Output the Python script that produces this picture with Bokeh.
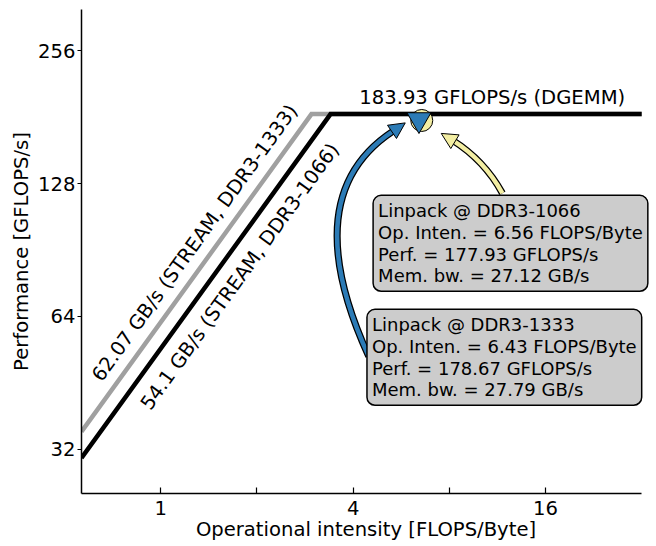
from bokeh.plotting import figure
from bokeh.models import (Range1d, FixedTicker, CustomJSTickFormatter, Label,
                          Arrow, NormalHead)
from bokeh.core.properties import value
from bokeh.embed import file_html
from bokeh.resources import INLINE
import math

# ---------------- data ----------------
peak_gflops = 183.93                      # DGEMM peak
bw_1333 = 62.07                           # STREAM, DDR3-1333 (GB/s)
bw_1066 = 54.1                            # STREAM, DDR3-1066 (GB/s)
oi_min, oi_max = 0.565, 32.0              # operational-intensity span of rooflines / x axis
x_view_max = 34.1                         # view extends a bit right so the boxes are not clipped
y_min, y_max = 25.4, 317.5

linpack_1066_oi = [6.56]
linpack_1066_perf = [177.93]
linpack_1333_oi = [6.43]
linpack_1333_perf = [178.67]

x_ticks = [1, 2, 4, 8, 16]
y_ticks = [32, 64, 128, 256]

roof_label_1333 = "62.07 GB/s (STREAM, DDR3-1333)"
roof_label_1066 = "54.1 GB/s (STREAM, DDR3-1066)"
peak_label = "183.93 GFLOPS/s (DGEMM)"
x_label = "Operational intensity [FLOPS/Byte]"
y_label = "Performance [GFLOPS/s]"
box_1066 = "Linpack @ DDR3-1066\nOp. Inten. = 6.56 FLOPS/Byte\nPerf. = 177.93 GFLOPS/s\nMem. bw. = 27.12 GB/s"
box_1333 = "Linpack @ DDR3-1333\nOp. Inten. = 6.43 FLOPS/Byte\nPerf. = 178.67 GFLOPS/s\nMem. bw. = 27.79 GB/s"

# annotation anchor positions (data coordinates)
label_1333_pos = (1.278, 93.9)
label_1066_pos = (1.769, 78.8)
peak_label_pos = (10.9, 200.9)
box_1066_pos = (4.62, 120.4)      # top-left corner of box
box_1333_pos = (4.42, 66.4)
# curved arrows: start, control, end, tip
blue_arrow = dict(x0=4.476, y0=51.98, cx=2.635, cy=120.2, x1=5.322, y1=168.1, tx=5.824, ty=175.7)
yellow_arrow = dict(x0=11.73, y0=121.7, cx=10.30, cy=144.6, x1=8.175, y1=160.6, tx=7.55, ty=166.3)

BLUE = "#2c7bb6"
YELLOW = "#f3eea3"
FONT = "DejaVu Sans"
FS = "19.6px"

def roof(bw):
    ridge = peak_gflops / bw
    return [oi_min, ridge, oi_max], [bw * oi_min, peak_gflops, peak_gflops]

p = figure(width=656, height=546, x_axis_type="log", y_axis_type="log",
           x_range=Range1d(oi_min, x_view_max), y_range=Range1d(y_min, y_max),
           output_backend="svg", toolbar_location=None,
           min_border_left=81, min_border_right=6, min_border_top=9,
           min_border_bottom=53)
p.outline_line_color = None
p.grid.visible = False
p.background_fill_color = "white"
p.border_fill_color = "white"

# axes
p.xaxis.ticker = FixedTicker(ticks=x_ticks, minor_ticks=[])
p.xaxis.formatter = CustomJSTickFormatter(code="return (tick == 2 || tick == 8) ? '' : String(tick);")
p.xaxis.bounds = (oi_min, oi_max)
p.yaxis.ticker = FixedTicker(ticks=y_ticks, minor_ticks=[])
p.yaxis.formatter = CustomJSTickFormatter(code="return String(tick);")
p.xaxis.axis_label = x_label
p.yaxis.axis_label = y_label
for ax in (p.xaxis, p.yaxis):
    ax.axis_line_width = 1.5
    ax.major_tick_line_width = 1.2
    ax.minor_tick_line_color = None
    ax.major_label_text_font = FONT
    ax.major_label_text_font_size = FS
    ax.major_label_text_color = "black"
    ax.axis_label_text_font = FONT
    ax.axis_label_text_font_size = FS
    ax.axis_label_text_font_style = "normal"
    ax.axis_label_text_color = "black"
p.xaxis.major_tick_in = 6
p.xaxis.major_tick_out = 0
p.xaxis.major_label_standoff = 7
p.xaxis.axis_label_standoff = 0
p.yaxis.major_tick_in = 0
p.yaxis.major_tick_out = 4
p.yaxis.major_label_standoff = 2
p.yaxis.axis_label_standoff = 2

# rooflines
x13, y13 = roof(bw_1333)
x10, y10 = roof(bw_1066)
p.line(x13, y13, line_width=4.5, line_color="#a0a0a0", line_join="miter")
p.line(x10, y10, line_width=4.5, line_color="black", line_join="miter")

ang = math.atan2(132.7, 96.0)
p.text(x=[label_1333_pos[0], label_1066_pos[0]], y=[label_1333_pos[1], label_1066_pos[1]],
       text=[roof_label_1333, roof_label_1066], angle=ang,
       text_align="center", text_baseline="middle",
       text_font=value(FONT), text_font_size=FS, text_color="black")
p.text(x=[peak_label_pos[0]], y=[peak_label_pos[1]], text=[peak_label],
       text_align="center", text_baseline="middle",
       text_font=value(FONT), text_font_size=FS, text_color="black")

# markers
p.scatter(linpack_1066_oi, linpack_1066_perf, marker="circle", size=22,
          fill_color=YELLOW, line_color="black", line_width=1)
p.scatter(linpack_1333_oi, linpack_1333_perf, marker="inverted_triangle", size=24,
          fill_color=BLUE, line_color="black", line_width=1)

# curved arrows
for a, col in ((blue_arrow, BLUE), (yellow_arrow, YELLOW)):
    p.quadratic(x0=[a["x0"]], y0=[a["y0"]], x1=[a["x1"]], y1=[a["y1"]],
                cx=[a["cx"]], cy=[a["cy"]], line_color="black", line_width=7)
    p.quadratic(x0=[a["x0"]], y0=[a["y0"]], x1=[a["x1"]], y1=[a["y1"]],
                cx=[a["cx"]], cy=[a["cy"]], line_color=col, line_width=4.5)
    p.add_layout(Arrow(end=NormalHead(size=16, fill_color=col, line_color="black", line_width=1),
                       x_start=a["x1"], y_start=a["y1"], x_end=a["tx"], y_end=a["ty"],
                       line_alpha=0))

# info boxes
for pos, txt in ((box_1066_pos, box_1066), (box_1333_pos, box_1333)):
    p.add_layout(Label(x=pos[0], y=pos[1], text=txt, text_font=FONT, text_font_size="18px",
                       text_color="black", text_align="left", text_baseline="top",
                       text_line_height=1.03,
                       background_fill_color="#cccccc", border_line_color="black",
                       border_line_width=1.5, padding=5, border_radius=8))

open("out.html", "w").write(file_html(p, INLINE))
